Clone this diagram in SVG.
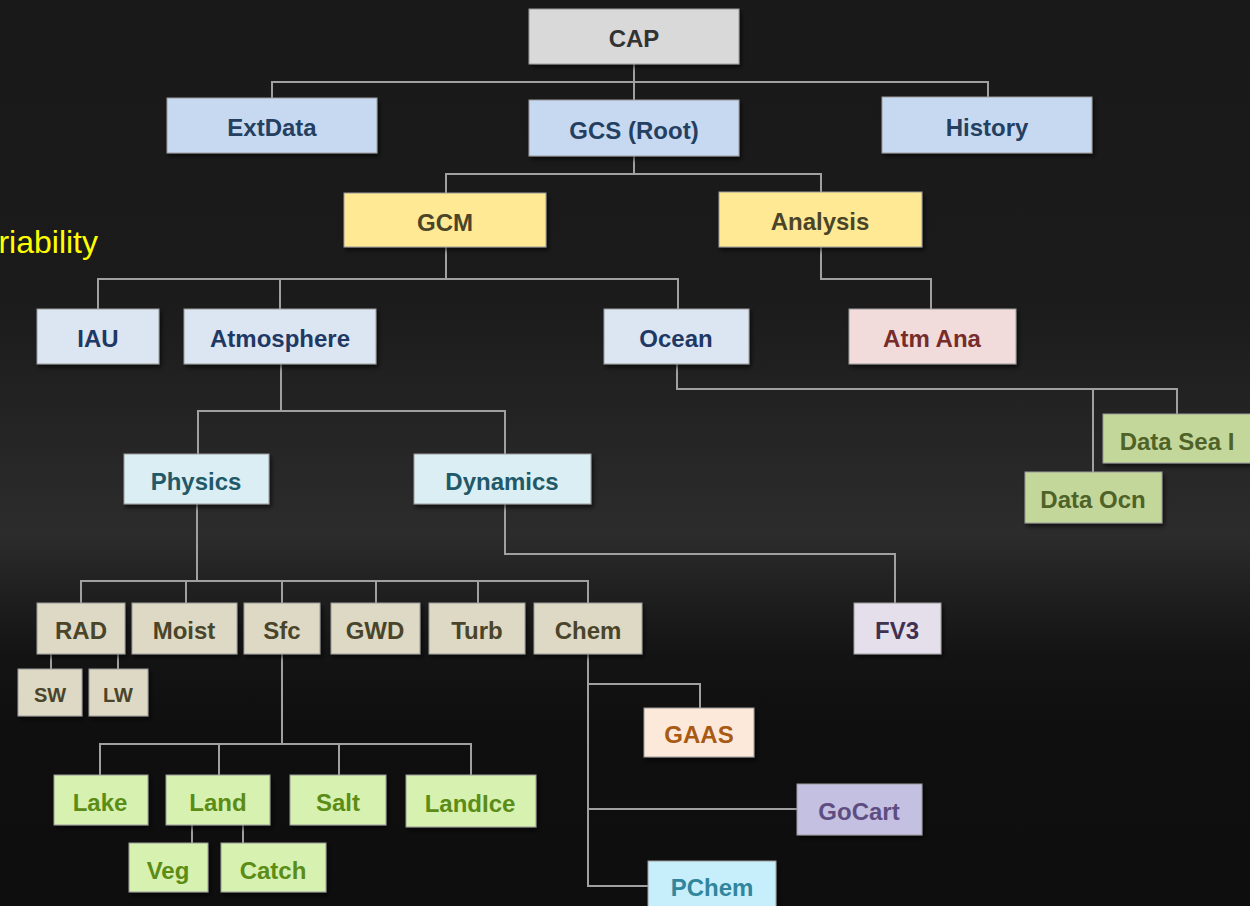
<svg xmlns="http://www.w3.org/2000/svg" width="1250" height="906" viewBox="0 0 1250 906">
<defs>
<linearGradient id="bg" x1="0" y1="0" x2="0" y2="1">
<stop offset="0" stop-color="#191919"/>
<stop offset="0.33" stop-color="#1b1b1b"/>
<stop offset="0.59" stop-color="#2c2c2c"/>
<stop offset="0.64" stop-color="#222222"/>
<stop offset="0.72" stop-color="#141414"/>
<stop offset="0.8" stop-color="#0f0f0f"/>
<stop offset="1" stop-color="#0e0e0e"/>
</linearGradient>
<filter id="sh" x="-10%" y="-10%" width="130%" height="140%">
<feDropShadow dx="2" dy="3" stdDeviation="2" flood-color="#000" flood-opacity="0.6"/>
</filter>
</defs>
<style>
.n rect{stroke:#9a9a9a;stroke-width:1;filter:url(#sh)}
.n text{font-family:"Liberation Sans",Arial,sans-serif;font-weight:bold;font-size:24px;text-anchor:middle;transform:translateY(1.5px)}
.n text.s{font-size:20px}
.c path{fill:none;stroke:#a0a0a0;stroke-width:2}
.gray rect{fill:#d9d9d9}.gray text{fill:#333333}
.blue rect{fill:#c6d9f1}.blue text{fill:#243f60}
.yel rect{fill:#ffe994}.yel text{fill:#4a4529}
.lb rect{fill:#dce6f2}.lb text{fill:#1f3864}
.pink rect{fill:#f2dcdb}.pink text{fill:#772c2c}
.teal rect{fill:#daeef3}.teal text{fill:#215968}
.tan rect{fill:#ddd9c4}.tan text{fill:#4a452a}
.olive rect{fill:#c4d79b}.olive text{fill:#4f6228}
.lg rect{fill:#d7f1b0}.lg text{fill:#5b8c16}
.or rect{fill:#fde9d9}.or text{fill:#a85a14}
.pur rect{fill:#c4c0e2}.pur text{fill:#5e4d80}
.cy rect{fill:#c6eefb}.cy text{fill:#31859c}
.lav rect{fill:#e5dfec}.lav text{fill:#3f3151}
</style>
<rect x="0" y="0" width="1250" height="906" fill="url(#bg)"/>
<text x="98" y="253" font-family="'Liberation Sans',Arial,sans-serif" font-size="32" fill="#ffff00" text-anchor="end">riability</text>
<g class="c" id="connectors">
<path d="M634,64 V100"/>
<path d="M272,98 V82 H988 V97"/>
<path d="M634,156 V174"/>
<path d="M446,193 V174 H821 V192"/>
<path d="M446,247 V279"/>
<path d="M98,309 V279 H678 V309"/>
<path d="M280,279 V309"/>
<path d="M821,247 V279 H931 V309"/>
<path d="M281,364 V411"/>
<path d="M198,454 V411 H505 V454"/>
<path d="M677,364 V389 H1177 V414"/>
<path d="M1093,389 V472"/>
<path d="M197,504 V581"/>
<path d="M81,603 V581 H588 V603"/>
<path d="M186,581 V603 M282,581 V603 M376,581 V603 M478,581 V603"/>
<path d="M505,504 V554 H895 V603"/>
<path d="M51,654 V669 M118,654 V669"/>
<path d="M282,654 V744"/>
<path d="M100,775 V744 H471 V775"/>
<path d="M219,744 V775 M339,744 V775"/>
<path d="M192,825 V843 M243,825 V843"/>
<path d="M588,654 V886 H648"/>
<path d="M588,684 H700 V708"/>
<path d="M588,809 H797"/>
</g>
<g class="n gray" id="cap"><rect x="529" y="9" width="210" height="55"/><text x="634" y="45">CAP</text></g>
<g class="n blue" id="extdata"><rect x="167" y="98" width="210" height="55"/><text x="272" y="134">ExtData</text></g>
<g class="n blue" id="gcs"><rect x="529" y="100" width="210" height="56"/><text x="634" y="137">GCS (Root)</text></g>
<g class="n blue" id="history"><rect x="882" y="97" width="210" height="56"/><text x="987" y="134">History</text></g>
<g class="n yel" id="gcm"><rect x="344" y="193" width="202" height="54"/><text x="445" y="229">GCM</text></g>
<g class="n yel" id="analysis"><rect x="719" y="192" width="203" height="55"/><text x="820" y="228">Analysis</text></g>
<g class="n lb" id="iau"><rect x="37" y="309" width="122" height="55"/><text x="98" y="345">IAU</text></g>
<g class="n lb" id="atmosphere"><rect x="184" y="309" width="192" height="55"/><text x="280" y="345">Atmosphere</text></g>
<g class="n lb" id="ocean"><rect x="604" y="309" width="145" height="55"/><text x="676" y="345">Ocean</text></g>
<g class="n pink" id="atmana"><rect x="849" y="309" width="167" height="55"/><text x="932" y="345">Atm Ana</text></g>
<g class="n olive" id="dataseai"><rect x="1103" y="414" width="148" height="49"/><text x="1177" y="448">Data Sea I</text></g>
<g class="n olive" id="dataocn"><rect x="1025" y="472" width="137" height="51"/><text x="1093" y="506">Data Ocn</text></g>
<g class="n teal" id="physics"><rect x="124" y="454" width="145" height="50"/><text x="196" y="488">Physics</text></g>
<g class="n teal" id="dynamics"><rect x="414" y="454" width="177" height="50"/><text x="502" y="488">Dynamics</text></g>
<g class="n tan" id="rad"><rect x="37" y="603" width="88" height="51"/><text x="81" y="637">RAD</text></g>
<g class="n tan" id="moist"><rect x="132" y="603" width="105" height="51"/><text x="184" y="637">Moist</text></g>
<g class="n tan" id="sfc"><rect x="244" y="603" width="76" height="51"/><text x="282" y="637">Sfc</text></g>
<g class="n tan" id="gwd"><rect x="331" y="603" width="89" height="51"/><text x="375" y="637">GWD</text></g>
<g class="n tan" id="turb"><rect x="429" y="603" width="96" height="51"/><text x="477" y="637">Turb</text></g>
<g class="n tan" id="chem"><rect x="534" y="603" width="108" height="51"/><text x="588" y="637">Chem</text></g>
<g class="n lav" id="fv3"><rect x="854" y="603" width="87" height="51"/><text x="897" y="637">FV3</text></g>
<g class="n tan" id="sw"><rect x="18" y="669" width="64" height="47"/><text class="s" x="50" y="700">SW</text></g>
<g class="n tan" id="lw"><rect x="89" y="669" width="59" height="47"/><text class="s" x="118" y="700">LW</text></g>
<g class="n or" id="gaas"><rect x="644" y="708" width="110" height="49"/><text x="699" y="741">GAAS</text></g>
<g class="n pur" id="gocart"><rect x="797" y="784" width="125" height="51"/><text x="859" y="818">GoCart</text></g>
<g class="n cy" id="pchem"><rect x="648" y="861" width="128" height="50"/><text x="712" y="894">PChem</text></g>
<g class="n lg" id="lake"><rect x="54" y="775" width="94" height="50"/><text x="100" y="809">Lake</text></g>
<g class="n lg" id="land"><rect x="166" y="775" width="104" height="50"/><text x="218" y="809">Land</text></g>
<g class="n lg" id="salt"><rect x="290" y="775" width="96" height="50"/><text x="338" y="809">Salt</text></g>
<g class="n lg" id="landice"><rect x="406" y="775" width="130" height="52"/><text x="470" y="810">LandIce</text></g>
<g class="n lg" id="veg"><rect x="129" y="843" width="79" height="49"/><text x="168" y="877">Veg</text></g>
<g class="n lg" id="catch"><rect x="221" y="843" width="105" height="49"/><text x="273" y="877">Catch</text></g>
</svg>
